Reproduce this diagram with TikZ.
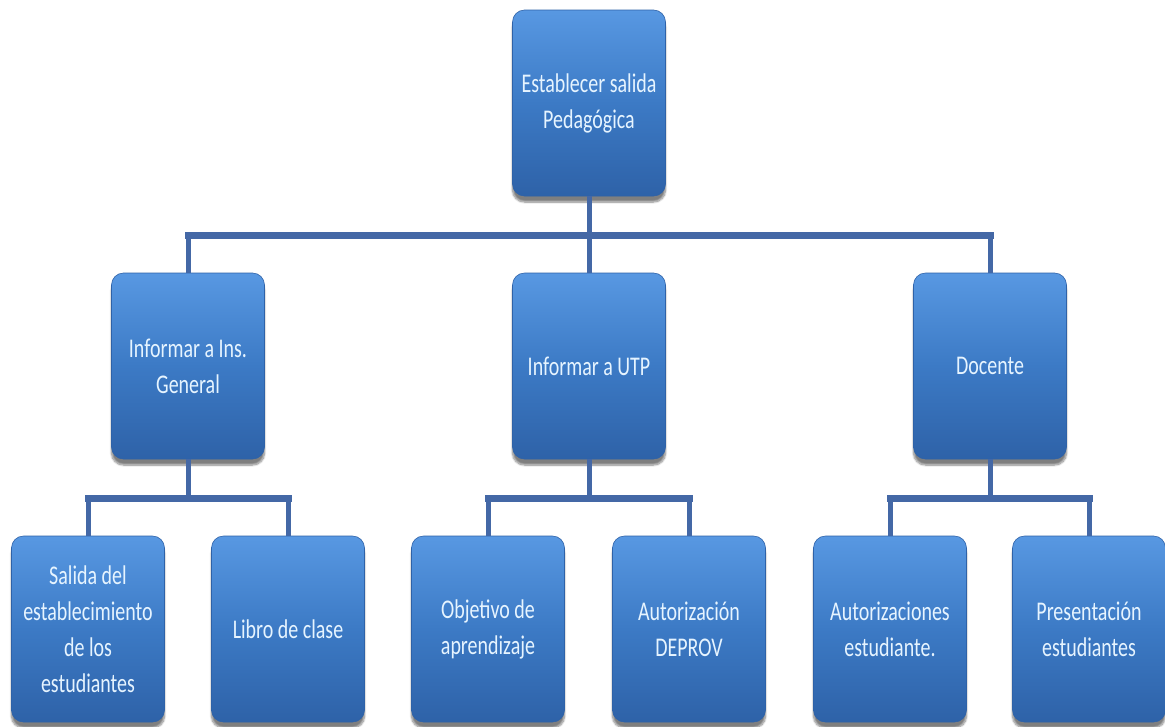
\documentclass[tikz,border=0pt]{standalone}
\usepackage{fontspec}
\setmainfont{Carlito}[FakeStretch=0.74]
\usetikzlibrary{shadows.blur}
\definecolor{linec}{RGB}{68,104,166}
\definecolor{boxtop}{RGB}{88,152,226}
\definecolor{boxmid}{RGB}{60,122,197}
\definecolor{boxbot}{RGB}{46,98,168}
\definecolor{boxtext}{RGB}{230,244,255}
\begin{document}
\begin{tikzpicture}[x=1pt,y=-1pt,
  box/.style={rectangle, rounded corners=12pt, minimum width=153pt, minimum height=186pt,
    inner sep=0pt, align=center, text=boxtext, font=\fontsize{27}{36}\selectfont,
    top color=boxtop, bottom color=boxbot, middle color=boxmid,
    draw=boxbot, line width=0.6pt,
    blur shadow={shadow xshift=0pt, shadow yshift=-6pt, shadow blur steps=8, shadow opacity=50}},
  hbar/.style={draw=linec, line width=7pt, line cap=rect},
  vbar/.style={draw=linec, line width=5pt}]
\useasboundingbox (0,0) rectangle (1165,726);

\coordinate (j0) at (589,235);
\coordinate (k1) at (188,498);
\coordinate (k2) at (589,498);
\coordinate (k3) at (990,498);

\node[box] (top) at (589,103) {Establecer salida\\Pedagógica};
\node[box] (m1) at (188,366) {Informar a Ins.\\General};
\node[box] (m2) at (589,366) {Informar a UTP};
\node[box] (m3) at (990,366) {Docente};
\node[box] (b1) at (88,629) {Salida del\\establecimiento\\de los\\estudiantes};
\node[box] (b2) at (288,629) {Libro de clase};
\node[box] (b3) at (488,629) {Objetivo de\\aprendizaje};
\node[box] (b4) at (689,629) {Autorización\\DEPROV};
\node[box] (b5) at (890,629) {Autorizaciones\\estudiante.};
\node[box] (b6) at (1089,629) {Presentación\\estudiantes};

% level 1
\draw[vbar] (top.south) -- (j0);
\draw[hbar] (m1.north |- j0) -- (m3.north |- j0);
\draw[vbar] (m1.north |- j0) -- (m1.north);
\draw[vbar] (j0) -- (m2.north);
\draw[vbar] (m3.north |- j0) -- (m3.north);

% level 2
\draw[vbar] (m1.south) -- (k1);
\draw[hbar] (b1.north |- k1) -- (b2.north |- k1);
\draw[vbar] (b1.north |- k1) -- (b1.north);
\draw[vbar] (b2.north |- k1) -- (b2.north);

\draw[vbar] (m2.south) -- (k2);
\draw[hbar] (b3.north |- k2) -- (b4.north |- k2);
\draw[vbar] (b3.north |- k2) -- (b3.north);
\draw[vbar] (b4.north |- k2) -- (b4.north);

\draw[vbar] (m3.south) -- (k3);
\draw[hbar] (b5.north |- k3) -- (b6.north |- k3);
\draw[vbar] (b5.north |- k3) -- (b5.north);
\draw[vbar] (b6.north |- k3) -- (b6.north);
\end{tikzpicture}
\end{document}
